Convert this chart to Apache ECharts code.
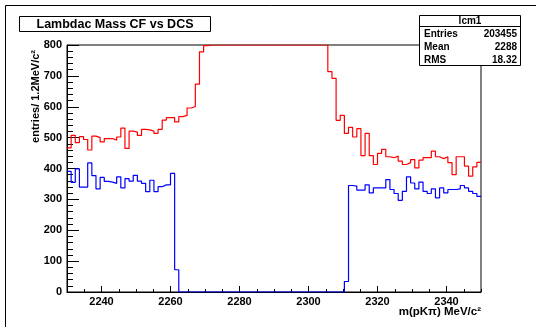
<!DOCTYPE html>
<html>
<head>
<meta charset="utf-8">
<script src="https://cdn.jsdelivr.net/npm/echarts@6/dist/echarts.min.js"></script>
<style>
  html, body { margin: 0; padding: 0; background: #fff; }
  #main { width: 536px; height: 327px; }
</style>
</head>
<body>
<div id="main"></div>
<script>
// histogram binning: 100 bins of 1.2 MeV from 2230 to 2350
var binStart = 2230;
var binWidth = 1.2;

// CF (red), clipped at 800 in the picture
var cfCounts = [
  467, 507, 484, 503, 494, 460, 505, 500, 486, 497,
  497, 492, 502, 531, 465, 521, 518, 507, 527, 525,
  521, 514, 527, 557, 565, 565, 551, 568, 572, 596,
  601, 673, 778, 798, 800, 800, 800, 800, 800, 800,
  800, 800, 800, 800, 800, 800, 800, 800, 800, 800,
  800, 800, 800, 800, 800, 800, 800, 800, 800, 800,
  800, 800, 800, 714, 692, 556, 572, 514, 533, 502,
  529, 442, 514, 442, 413, 449, 462, 438, 435, 440,
  424, 413, 419, 429, 402, 427, 435, 435, 456, 438,
  432, 438, 419, 380, 438, 438, 408, 375, 405, 420
];

// DCS (blue)
var dcsCounts = [
  391, 355, 399, 340, 340, 418, 377, 334, 371, 358,
  356, 352, 373, 337, 367, 359, 378, 359, 352, 325,
  362, 325, 341, 347, 347, 384, 72, 0, 0, 0,
  0, 0, 0, 0, 0, 0, 0, 0, 0, 0,
  0, 0, 0, 0, 0, 0, 0, 0, 0, 0,
  0, 0, 0, 0, 0, 0, 0, 0, 0, 0,
  0, 0, 0, 0, 0, 0, 0, 34, 345, 343,
  330, 330, 347, 321, 337, 337, 337, 364, 332, 319,
  297, 326, 373, 353, 334, 356, 326, 319, 334, 305,
  337, 321, 332, 332, 334, 345, 337, 326, 319, 310
];

var xTicks = [2240, 2260, 2280, 2300, 2320, 2340];
var yTicks = [0, 100, 200, 300, 400, 500, 600, 700, 800];

var statsRows = [
  ['Entries', '203455'],
  ['Mean', '2288'],
  ['RMS', '18.32']
];

// step histogram: one point per bin low edge, plus the closing edge
function toSteps(counts) {
  var pts = counts.map(function (c, i) {
    return [+(binStart + i * binWidth).toFixed(2), c];
  });
  pts.push([+(binStart + counts.length * binWidth).toFixed(2), counts[counts.length - 1]]);
  return pts;
}

var font = 'Liberation Sans, Arial, Helvetica, sans-serif';
var myChart = echarts.init(document.getElementById('main'), null, { renderer: 'canvas' });

var statsGraphics = [
  { type: 'rect', z: 100, shape: { x: 419.5, y: 15.5, width: 101, height: 50 },
    style: { fill: '#fff', stroke: '#000', lineWidth: 1 } },
  { type: 'line', z: 101, shape: { x1: 419.5, y1: 26.5, x2: 520.5, y2: 26.5 },
    style: { stroke: '#000', lineWidth: 1 } },
  { type: 'text', z: 101, x: 470, y: 21.5,
    style: { text: 'lcm1', font: 'bold 10px ' + font, fill: '#000', align: 'center', verticalAlign: 'middle' } }
];
statsRows.forEach(function (row, i) {
  var y = 34 + i * 13;
  statsGraphics.push({ type: 'text', z: 101, x: 424, y: y,
    style: { text: row[0], font: 'bold 10px ' + font, fill: '#000', align: 'left', verticalAlign: 'middle' } });
  statsGraphics.push({ type: 'text', z: 101, x: 517, y: y,
    style: { text: row[1], font: 'bold 10px ' + font, fill: '#000', align: 'right', verticalAlign: 'middle' } });
});

var option = {
  animation: false,
  backgroundColor: '#fff',
  grid: {
    left: 67, right: 55, top: 45, bottom: 35,
    show: true, borderColor: '#000', borderWidth: 1, backgroundColor: 'transparent'
  },
  xAxis: [
    {
      type: 'value', min: 2230, max: 2350, interval: 5,
      axisLine: { lineStyle: { color: '#000', width: 1 } },
      axisTick: { inside: true, length: 3, lineStyle: { color: '#000' } },
      axisLabel: {
        color: '#000', fontWeight: 'bold', fontSize: 11, fontFamily: font, margin: 4,
        formatter: function (v) { return xTicks.indexOf(v) >= 0 ? String(v) : ''; }
      },
      splitLine: { show: false }
    },
    {
      type: 'value', min: 2230, max: 2350, position: 'bottom',
      axisLine: { show: false },
      axisTick: { inside: true, length: 6, customValues: xTicks, lineStyle: { color: '#000' } },
      axisLabel: { show: false },
      splitLine: { show: false }
    }
  ],
  yAxis: [
    {
      type: 'value', min: 0, max: 800, interval: 20, position: 'left',
      axisLine: { show: true, lineStyle: { color: '#000', width: 1 } },
      axisTick: { show: true, inside: true, length: 6, lineStyle: { color: '#000' } },
      axisLabel: {
        color: '#000', fontWeight: 'bold', fontSize: 11, fontFamily: font, margin: 5,
        formatter: function (v) { return yTicks.indexOf(v) >= 0 ? String(v) : ''; }
      },
      splitLine: { show: false }
    },
    {
      type: 'value', min: 0, max: 800, position: 'left',
      axisLine: { show: false },
      axisTick: { show: true, inside: true, length: 12, customValues: yTicks, lineStyle: { color: '#000' } },
      axisLabel: { show: false },
      splitLine: { show: false }
    }
  ],
  series: [
    {
      name: 'CF', type: 'line', step: 'end', xAxisIndex: 0, yAxisIndex: 0,
      data: toSteps(cfCounts), symbol: 'none', z: 3,
      lineStyle: { color: '#ff0000', width: 1.2 }
    },
    {
      name: 'DCS', type: 'line', step: 'end', xAxisIndex: 0, yAxisIndex: 0,
      data: toSteps(dcsCounts), symbol: 'none', z: 3,
      lineStyle: { color: '#0000ff', width: 1.2 }
    }
  ],
  graphic: [
    // canvas frame
    { type: 'line', shape: { x1: 5.5, y1: 5.5, x2: 536, y2: 5.5 }, style: { stroke: '#000', lineWidth: 1 } },
    { type: 'line', shape: { x1: 5.5, y1: 5.5, x2: 5.5, y2: 327 }, style: { stroke: '#000', lineWidth: 1 } },
    // title box
    { type: 'rect', z: 100, shape: { x: 19.5, y: 16.5, width: 191, height: 15 },
      style: { fill: '#fff', stroke: '#000', lineWidth: 1 } },
    { type: 'text', z: 101, x: 115, y: 24.5,
      style: { text: 'Lambdac Mass CF vs DCS', font: 'bold 12.5px ' + font, fill: '#000', align: 'center', verticalAlign: 'middle' } },
    // axis titles
    { type: 'text', z: 101, x: 481, y: 312,
      style: { text: 'm(pKπ) MeV/c²', font: 'bold 11.5px ' + font, fill: '#000', align: 'right', verticalAlign: 'middle' } },
    { type: 'text', z: 101, x: 36, y: 50, rotation: Math.PI / 2,
      style: { text: 'entries/ 1.2MeV/c²', font: 'bold 11px ' + font, fill: '#000', align: 'right', verticalAlign: 'middle' } }
  ].concat(statsGraphics)
};

option && myChart.setOption(option);
</script>
</body>
</html>
